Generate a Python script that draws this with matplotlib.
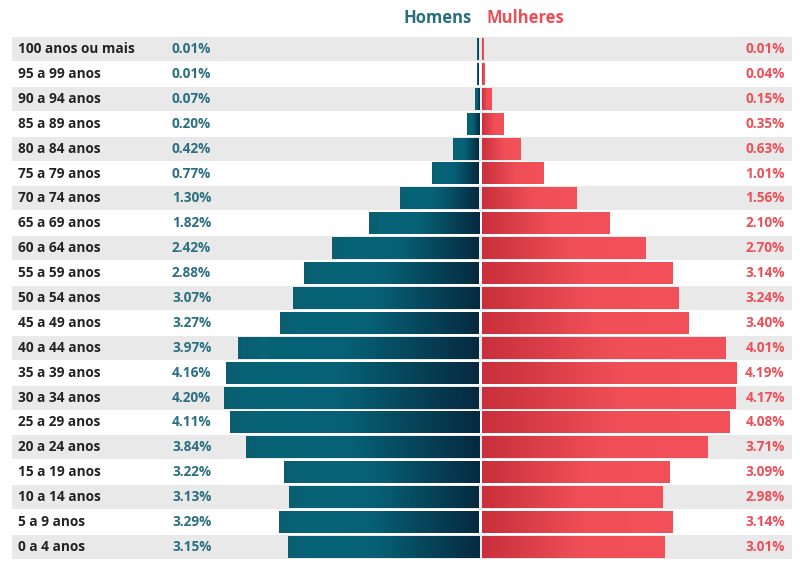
"""Pirâmide etária: homens x mulheres por faixa de idade."""

import matplotlib
matplotlib.use("Agg")
import matplotlib.pyplot as plt
import numpy as np
from matplotlib.colors import LinearSegmentedColormap
from matplotlib.patches import Rectangle

faixas = ["100 anos ou mais", "95 a 99 anos", "90 a 94 anos", "85 a 89 anos",
          "80 a 84 anos", "75 a 79 anos", "70 a 74 anos", "65 a 69 anos",
          "60 a 64 anos", "55 a 59 anos", "50 a 54 anos", "45 a 49 anos",
          "40 a 44 anos", "35 a 39 anos", "30 a 34 anos", "25 a 29 anos",
          "20 a 24 anos", "15 a 19 anos", "10 a 14 anos", "5 a 9 anos",
          "0 a 4 anos"]
homens = [0.01, 0.01, 0.07, 0.20, 0.42, 0.77, 1.30, 1.82, 2.42, 2.88, 3.07,
          3.27, 3.97, 4.16, 4.20, 4.11, 3.84, 3.22, 3.13, 3.29, 3.15]
mulheres = [0.01, 0.04, 0.15, 0.35, 0.63, 1.01, 1.56, 2.10, 2.70, 3.14, 3.24,
            3.40, 4.01, 4.19, 4.17, 4.08, 3.71, 3.09, 2.98, 3.14, 3.01]

COR_H = "#2a6f80"
COR_M = "#ec4f58"
FONTE = ["Open Sans", "DejaVu Sans"]

cmap_h = LinearSegmentedColormap.from_list(
    "h", [(0, "#0b5e70"), (0.12, "#076477"), (0.45, "#066176"),
          (1, "#062a40")])
cmap_m = LinearSegmentedColormap.from_list(
    "m", [(0, "#c8303b"), (0.55, "#f04f58"), (1, "#f25159")])
grad = np.linspace(0, 1, 256).reshape(1, -1)

fig = plt.figure(figsize=(8, 5.72), dpi=100)
ax = fig.add_axes([0, 0, 1, 1])
ax.set_axis_off()

px_por_pct = 60.7
centro = 480.5
xmin = -centro / px_por_pct
xmax = (800 - centro) / px_por_pct
pitch = 24.9
ymin = -49 / pitch
ymax = (572 - 49) / pitch

trans = ax.get_yaxis_transform()  # x em fração do eixo, y em dados
gap = 0.025
h = 0.88

for i, (faixa, vh, vm) in enumerate(zip(faixas, homens, mulheres)):
    if i % 2 == 0:
        ax.add_patch(Rectangle((0.015, i - 0.48), 0.975, 0.96,
                               transform=trans, color="#e9e9e9", lw=0,
                               zorder=0))
    # barras com gradiente
    wh = max(vh, 0.03)
    ax.imshow(grad, cmap=cmap_h, aspect="auto", zorder=2,
              extent=(-gap - wh, -gap, i + h / 2, i - h / 2))
    wm = max(vm, 0.03)
    ax.imshow(grad, cmap=cmap_m, aspect="auto", zorder=2,
              extent=(gap, gap + wm, i + h / 2, i - h / 2))

    ax.text(0.0225, i, faixa, transform=trans, ha="left", va="center",
            fontsize=9.8, fontweight="bold", color="#222222",
            family=FONTE)
    ax.text(0.215, i, f"{vh:.2f}%", transform=trans, ha="left",
            va="center", fontsize=9.8, fontweight="bold", color=COR_H,
            family=FONTE)
    ax.text(0.981, i, f"{vm:.2f}%", transform=trans, ha="right",
            va="center", fontsize=9.8, fontweight="bold", color=COR_M,
            family=FONTE)

ax.text(-0.15, -1.25, "Homens", ha="right", va="center", fontsize=12,
        fontweight="bold", color=COR_H, family=FONTE)
ax.text(0.1, -1.25, "Mulheres", ha="left", va="center", fontsize=12,
        fontweight="bold", color=COR_M, family=FONTE)

ax.set_xlim(xmin, xmax)
ax.set_ylim(ymax, ymin)

fig.savefig("out.png", dpi=100, facecolor="white")
